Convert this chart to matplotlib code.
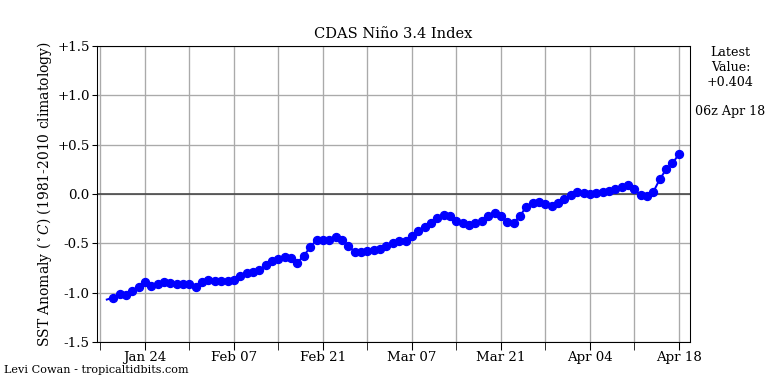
import numpy as np
import matplotlib
matplotlib.use('Agg')
from matplotlib import pyplot as plt
import matplotlib.dates as mdates

plt.rcParams['font.family'] = 'DejaVu Serif'
plt.rcParams['mathtext.fontset'] = 'dejavuserif'

# daily values, Jan 18 - Apr 18 (first one drawn as line only)
start = np.datetime64('2023-01-18')
anom = [-1.07,
        -1.05, -1.015, -1.02, -0.98, -0.94, -0.895, -0.93, -0.915, -0.895, -0.90,
        -0.915, -0.91, -0.91, -0.945, -0.89, -0.87, -0.88, -0.88, -0.88, -0.875,
        -0.83, -0.80, -0.79, -0.77, -0.72, -0.68, -0.655, -0.635, -0.645, -0.695,
        -0.625, -0.54, -0.466, -0.466, -0.466, -0.44, -0.466, -0.527, -0.585, -0.585,
        -0.578, -0.57, -0.557, -0.524, -0.50, -0.48, -0.473, -0.426, -0.372, -0.33,
        -0.29, -0.246, -0.213, -0.223, -0.27, -0.297, -0.314, -0.29, -0.27, -0.223,
        -0.19, -0.225, -0.28, -0.29, -0.223, -0.128, -0.088, -0.078, -0.10, -0.12,
        -0.088, -0.054, -0.01, 0.024, 0.013, 0.0, 0.01, 0.02, 0.033, 0.047,
        0.068, 0.09, 0.047, -0.01, -0.02, 0.024, 0.149, 0.25, 0.31, 0.404]
dates = start + np.arange(len(anom)).astype('timedelta64[D]')
dates = dates.astype('datetime64[ms]').astype(object)

yticks = [-1.5, -1.0, -0.5, 0.0, 0.5, 1.0, 1.5]
ylabels = ['-1.5', '-1.0', '-0.5', '0.0', '+0.5', '+1.0', '+1.5']

fig = plt.figure(figsize=(8, 4), dpi=96)
ax = fig.add_axes([0.1263, 0.1094, 0.7721, 0.7708])

ax.axhline(0, color='#444444', lw=1.2, zorder=2)
ax.plot(dates, anom, color='blue', lw=1.5, marker='o', markersize=6,
        markevery=slice(1, None), zorder=3)

ax.set_ylim(-1.5, 1.5)
ax.set_yticks(yticks)
ax.set_yticklabels(ylabels, fontsize=10)
ax.tick_params(axis='y', pad=2)
ax.set_xlim(np.datetime64('2023-01-16T11:00'), np.datetime64('2023-04-19T18:00'))

major = [np.datetime64('2023-01-24') + np.timedelta64(14 * i, 'D') for i in range(7)]
minor = [np.datetime64('2023-01-17') + np.timedelta64(14 * i, 'D') for i in range(7)]
ax.set_xticks([d.astype('datetime64[ms]').astype(object) for d in major])
ax.set_xticks([d.astype('datetime64[ms]').astype(object) for d in minor], minor=True)
ax.xaxis.set_major_formatter(mdates.DateFormatter('%b %d'))
ax.tick_params(axis='x', which='major', labelsize=10, length=6, pad=1)
ax.tick_params(axis='x', which='minor', length=6)
ax.grid(True, which='both', color='#aaaaaa', lw=1)
ax.set_axisbelow(True)

ax.set_ylabel(r'SST Anomaly ($^\circ C$) (1981-2010 climatology)', fontsize=10.4, labelpad=2)
ax.set_title('CDAS Niño 3.4 Index', fontsize=11)

fig.text(0.951, 0.881, 'Latest\nValue:\n+0.404', ha='center', va='top', fontsize=9.5)
fig.text(0.951, 0.71, '06z Apr 18', ha='center', va='center', fontsize=9.5)
fig.text(0.005, 0.036, 'Levi Cowan - tropicaltidbits.com', ha='left', va='center', fontsize=8.4)

fig.savefig('out.png', dpi=96)
